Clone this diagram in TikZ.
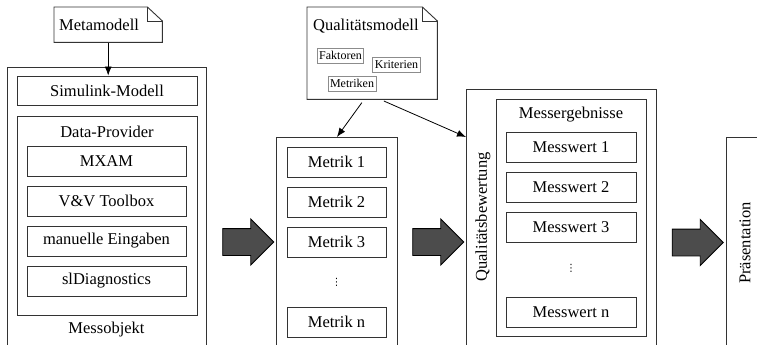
\documentclass[tikz,border=0pt]{standalone}
\usepackage{fontspec}
\setmainfont{Liberation Serif}
\newfontfamily\diagfont{Liberation Serif}
\newfontfamily\dotsfont{DejaVu Sans}
\usetikzlibrary{arrows.meta}
\usetikzlibrary{shapes.arrows}

\definecolor{linegray}{gray}{0.2}
\definecolor{arrowgray}{gray}{0.3}

\begin{document}
\begin{tikzpicture}[x=1pt, y=-1pt,
    every node/.style={font=\diagfont\fontsize{16.5}{19}\selectfont, inner sep=0pt},
    box/.style={draw=linegray, line width=0.9pt, fill=white},
    item/.style={box, minimum height=30},
    group/.style={box, anchor=north west},
    doc/.style={anchor=north west},
    tag/.style={draw=black!45, line width=0.8pt, inner sep=2pt, minimum height=15, font=\diagfont\fontsize{12}{14}\selectfont},
    vdots/.style={font=\dotsfont\fontsize{10}{12}\selectfont},
    conn/.style={draw=black, line width=0.8pt, -{Latex[length=9pt,width=7pt]}},
    bigarrow/.style={single arrow, draw=black, line width=0.9pt, fill=arrowgray, minimum height=51, minimum width=0pt, inner xsep=0pt, inner ysep=13pt, single arrow head extend=9.5pt}]
    \useasboundingbox (0,0) rectangle (757,345);
    \clip (0,0) rectangle (757,345);

    % Messobjekt
    \node[doc, minimum width=108, minimum height=35, text width=98, align=left, inner xsep=5] (meta) at (54,7) {Metamodell};
    \node[group, minimum width=199, minimum height=300] (messobj) at (7,67) {};
    \node[item, minimum width=180, minimum height=29] (simulink) at (107,90.5) {Simulink-Modell};
    \node[group, minimum width=180, minimum height=199] (provider) at (17,116) {};
    \node (providertitle) at (107,132) {Data-Provider};
    \foreach \name/\txt [count=\i] in {mxam/MXAM, vv/V\&V Toolbox, manual/manuelle Eingaben, sldiag/slDiagnostics}
        \node[item, minimum width=159] (\name) at (106.5,121+40*\i) {\txt};
    \node (messobjtitle) at (106.5,330) {Messobjekt};
    \draw[conn] (meta.south) -- (meta.south |- simulink.north);

    \node[bigarrow] (flow1) at (241.5,242) {};

    % Qualitaetsmodell
    \node[doc, minimum width=130, minimum height=92] (qm) at (307,7) {};
    \node[anchor=west] (qmtitle) at (313,26) {Qualitätsmodell};
    \node[tag] (faktoren) at (340.5,55.5) {Faktoren};
    \node[tag] (kriterien) at (396.5,64.5) {Kriterien};
    \node[tag] (metriktag) at (352,83.5) {Metriken};
    \foreach \n in {meta, qm} {
        \draw[draw=linegray, line width=0.9pt] (\n.north west) -- ([xshift=-15]\n.north east) -- ([yshift=-14]\n.north east) -- (\n.south east) -- (\n.south west) -- cycle;
        \draw[draw=linegray, line width=0.9pt] ([xshift=-15]\n.north east) |- ([yshift=-14]\n.north east);
    }

    % Metriken
    \node[group, minimum width=121, minimum height=230] (metriken) at (276,137) {};
    \foreach \i in {1,2,3}
        \node[item, minimum width=99] (metrik\i) at (336.5,122+40*\i) {Metrik \i};
    \node[vdots] (metrikdots) at (336.5,282) {⋮};
    \node[item, minimum width=99] (metrikn) at (336.5,322) {Metrik n};
    \draw[conn, shorten <=4] ([xshift=-8]qm.south) -- (metriken.north);

    \node[bigarrow] (flow2) at (431.5,242) {};

    % Qualitaetsbewertung
    \node[group, minimum width=190, minimum height=280] (qbew) at (466,89) {};
    \node[rotate=90] (qbewtitle) at (483,217) {Qualitätsbewertung};
    \node[group, minimum width=150, minimum height=237] (ergebnisse) at (496,99) {};
    \node (ergebnissetitle) at (571,115) {Messergebnisse};
    \foreach \i in {1,2,3}
        \node[item, minimum width=130] (messwert\i) at (571,107+40*\i) {Messwert \i};
    \node[vdots] (messwertdots) at (571,268) {⋮};
    \node[item, minimum width=130] (messwertn) at (571,312) {Messwert n};
    \draw[conn, shorten <=4] ([xshift=8]qm.south) -- ([yshift=-48]qbew.north west);

    \node[bigarrow] (flow3) at (691,242.5) {};

    % Praesentation
    \node[group, minimum width=60, minimum height=250] (praes) at (726,137) {};
    \node[rotate=90] (praestitle) at (745,243) {Präsentation};
\end{tikzpicture}
\end{document}
